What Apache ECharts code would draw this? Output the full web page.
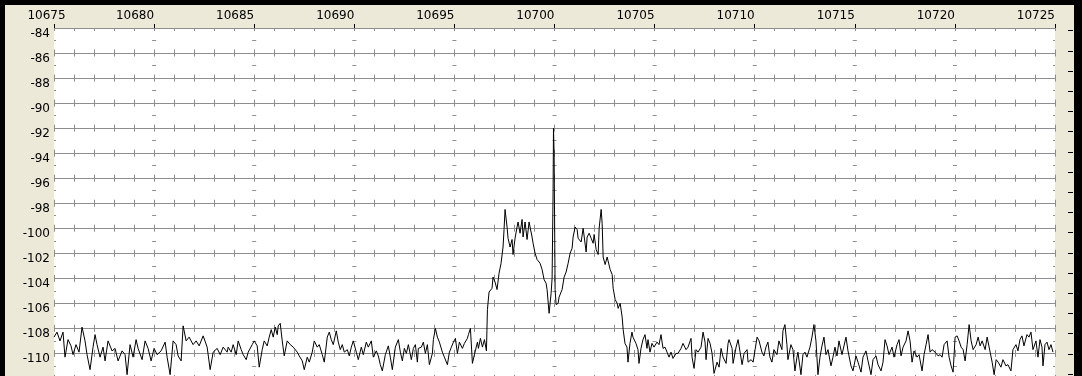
<!DOCTYPE html>
<html><head><meta charset="utf-8">
<script src="https://cdn.jsdelivr.net/npm/echarts@6/dist/echarts.min.js"></script>
<style>
html,body{margin:0;padding:0;background:#ECE9D8;overflow:hidden;width:1082px;height:376px}
#chart{position:absolute;left:0;top:0;width:1082px;height:376px;background:#ECE9D8}
.bd{position:absolute;background:#000}
</style></head><body>
<div id="chart"></div>
<div class="bd" style="left:0;top:0;width:1082px;height:5px"></div>
<div class="bd" style="left:0;top:0;width:5px;height:376px"></div>
<div class="bd" style="left:1074px;top:0;width:8px;height:376px"></div>
<script>
// ---- tick labels ----
const xTicks = [10675,10680,10685,10690,10695,10700,10705,10710,10715,10720,10725];
const yTicks = [-84,-86,-88,-90,-92,-94,-96,-98,-100,-102,-104,-106,-108,-110];

// ---- spectrum trace (MHz, dBm) ----
const freq = [
10675.00,10675.15,10675.30,10675.45,10675.55,10675.70,10675.85,10675.95,10676.10,10676.25,
10676.40,10676.55,10676.65,10676.80,10676.95,10677.05,10677.15,10677.30,10677.45,10677.55,
10677.70,10677.90,10678.05,10678.20,10678.40,10678.55,10678.65,10678.80,10678.95,10679.10,
10679.20,10679.40,10679.55,10679.70,10679.85,10680.00,10680.15,10680.35,10680.55,10680.65,
10680.80,10680.95,10681.10,10681.20,10681.35,10681.45,10681.60,10681.75,10681.95,10682.10,
10682.25,10682.45,10682.65,10682.80,10682.95,10683.15,10683.30,10683.45,10683.65,
10683.70,10683.85,10683.95,10684.10,10684.20,10684.35,10684.45,10684.60,10684.70,10684.90,
10685.00,10685.15,10685.25,10685.40,10685.50,10685.65,10685.75,10685.85,10685.95,10686.05,
10686.15,10686.20,10686.30,10686.40,10686.50,10686.65,10686.80,10686.95,10687.15,10687.25,
10687.40,10687.50,10687.65,10687.75,10687.90,10688.00,10688.15,10688.25,10688.40,10688.50,
10688.65,10688.75,10688.85,10688.95,10689.10,10689.20,10689.30,10689.40,10689.50,10689.65,
10689.75,10689.85,10689.95,10690.10,10690.20,10690.35,10690.45,10690.60,10690.70,10690.85,
10690.95,10691.10,10691.20,10691.30,10691.40,10691.55,10691.70,10691.80,10691.90,10692.05,
10692.20,10692.30,10692.40,
10692.50,10692.60,10692.70,10692.85,10692.95,10693.05,10693.15,10693.20,10693.35,10693.45,
10693.55,10693.65,10693.75,10693.90,10693.95,10694.05,10694.15,10694.25,10694.40,10694.50,
10694.65,10694.75,10694.85,10694.95,10695.05,10695.15,10695.25,10695.40,10695.50,10695.65,
10695.70,10695.80,10695.90,10696.00,10696.15,10696.20,10696.30,10696.40,10696.50,10696.60,
10696.65,10696.73,10696.88,10696.93,10697.03,10697.13,10697.23,10697.33,10697.43,10697.48,
10697.53,10697.63,10697.68,10697.78,10697.88,10697.93,10698.03,10698.13,10698.18,10698.28,
10698.38,10698.43,10698.53,10698.63,10698.73,10698.88,10698.93,10699.03,10699.13,10699.28,
10699.38,10699.48,10699.58,10699.63,10699.73,10699.83,10699.88,10699.93,10699.95,10699.98,
10700.03,10700.08,10700.18,10700.23,10700.38,10700.48,10700.58,10700.68,10700.78,10700.88,
10700.93,10701.03,10701.13,10701.18,10701.33,10701.43,10701.48,10701.58,10701.63,10701.73,
10701.83,10701.93,10701.98,10702.08,10702.18,10702.23,10702.33,10702.38,10702.43,10702.53,
10702.63,10702.68,10702.78,10702.88,10702.93,10703.03,10703.13,10703.18,10703.28,10703.38,
10703.43,
10703.52,10703.62,10703.67,10703.77,10703.87,10703.92,10704.07,10704.17,10704.22,10704.32,
10704.42,10704.52,10704.62,10704.67,10704.77,10704.87,10704.97,10705.12,10705.22,10705.32,
10705.42,10705.52,10705.62,10705.72,10705.82,10705.92,10706.07,10706.17,10706.32,10706.42,
10706.57,10706.67,10706.82,10706.87,10706.97,10707.07,10707.17,10707.32,10707.42,10707.52,
10707.57,10707.67,10707.77,10707.87,10707.97,10708.12,10708.22,10708.32,10708.42,10708.57,
10708.67,10708.72,10708.87,10708.92,10709.07,10709.17,10709.27,10709.37,10709.47,10709.62,
10709.67,10709.82,
10709.92,10710.02,10710.12,10710.22,10710.36,10710.46,10710.56,10710.66,10710.76,10710.86,
10710.96,10711.11,10711.21,10711.36,10711.41,10711.51,10711.61,10711.66,10711.81,10711.91,
10712.01,10712.11,10712.16,10712.31,10712.41,10712.51,10712.61,10712.76,10712.86,10712.96,
10713.06,10713.16,10713.26,10713.36,10713.46,10713.56,10713.66,10713.81,10713.91,10714.01,
10714.11,10714.21,10714.36,10714.46,10714.56,10714.66,10714.81,10714.91,10715.06,10715.16,
10715.31,10715.41,10715.56,10715.66,10715.81,10715.91,10716.06,10716.16,10716.31,10716.41,
10716.51,10716.61,10716.71,10716.86,10716.96,10717.11,10717.21,10717.31,10717.41,10717.56,
10717.66,10717.76,10717.86,10717.96,10718.11,10718.21,10718.36,10718.46,10718.56,10718.66,
10718.76,10718.86,10719.01,10719.16,10719.26,10719.36,10719.46,10719.61,10719.71,10719.81,
10719.91,10720.01,10720.11,10720.21,10720.31,10720.41,10720.51,10720.61,10720.71,10720.81,
10720.91,10721.06,10721.16,10721.26,10721.36,10721.51,10721.61,10721.76,10721.86,10721.96,
10722.06,10722.16,10722.30,10722.40,10722.55,10722.65,10722.80,10722.90,10723.05,10723.15,
10723.25,10723.35,10723.45,10723.60,10723.70,10723.80,10723.90,10724.05,10724.15,10724.25,
10724.35,10724.40,10724.50,10724.60,10724.70,10724.80,10724.90
];
const level = [
-108.7,-108.3,-109.0,-108.3,-110.3,-108.9,-109.4,-110.1,-109.3,-109.9,
-107.9,-109.0,-110.1,-111.3,-109.5,-108.5,-109.3,-110.3,-109.5,-110.6,
-109.0,-109.8,-109.6,-110.6,-109.8,-110.1,-111.7,-109.3,-110.3,-108.9,
-109.6,-110.5,-109.0,-109.6,-110.6,-109.6,-110.1,-109.8,-109.1,-110.3,
-111.7,-109.0,-109.3,-110.2,-110.6,-107.8,-109.0,-108.7,-109.3,-109.0,
-109.4,-108.6,-109.5,-111.3,-109.9,-109.6,-110.1,-109.5,-109.9,
-109.5,-109.9,-109.3,-110.1,-109.0,-109.7,-110.1,-110.5,-109.9,-109.3,
-109.0,-109.4,-111.1,-109.7,-109.0,-109.4,-108.7,-108.1,-108.7,-107.9,
-108.5,-107.8,-107.6,-109.0,-110.2,-109.0,-109.3,-109.5,-109.9,-110.2,
-110.6,-111.3,-110.3,-110.7,-109.9,-109.0,-109.5,-109.3,-110.1,-110.7,
-108.7,-108.3,-108.9,-109.3,-108.2,-109.1,-109.7,-109.3,-109.9,-109.7,
-110.2,-109.5,-109.0,-109.9,-110.5,-109.5,-110.1,-109.1,-109.5,-109.0,
-110.3,-109.8,-110.2,-110.9,-111.4,-110.1,-109.4,-110.3,-111.3,-109.5,
-108.9,-109.9,-110.6,
-109.6,-110.0,-109.3,-110.5,-109.6,-109.3,-110.7,-109.6,-109.5,-109.1,
-110.0,-109.3,-110.9,-110.0,-108.9,-108.0,-108.7,-109.1,-109.9,-110.3,
-110.9,-109.9,-109.5,-109.1,-108.8,-110.0,-109.1,-109.6,-109.2,-108.8,
-108.5,-108.0,-110.8,-110.1,-109.1,-109.6,-108.8,-109.5,-108.9,-109.8,
-106.5,-105.1,-104.8,-103.9,-104.3,-104.9,-103.6,-102.8,-101.5,-100.1,
-98.5,-99.9,-100.8,-101.5,-100.9,-102.1,-100.8,-99.9,-99.5,-100.4,
-99.3,-100.7,-99.5,-100.9,-99.5,-100.7,-101.2,-102.0,-102.5,-102.8,
-103.3,-104.1,-104.4,-104.9,-106.8,-105.2,-104.0,-97.0,-92.0,-94.0,
-104.9,-106.1,-106.0,-105.5,-104.9,-103.9,-103.5,-102.8,-102.0,-101.6,
-100.7,-99.9,-100.1,-100.8,-101.1,-100.0,-99.9,-101.9,-100.7,-100.4,
-100.8,-101.2,-100.5,-101.7,-102.1,-100.0,-98.5,-99.6,-102.3,-102.9,
-102.3,-102.4,-103.3,-103.7,-104.8,-105.7,-106.0,-106.4,-106.0,-107.1,
-108.1,
-109.2,-109.5,-110.7,-109.2,-108.3,-108.7,-109.2,-109.7,-110.8,-109.6,
-108.9,-108.5,-109.6,-108.9,-109.9,-109.2,-109.5,-109.1,-109.3,-108.5,
-109.6,-109.5,-109.9,-110.3,-109.9,-110.4,-110.0,-110.0,-109.6,-109.2,
-109.7,-109.5,-108.8,-110.3,-111.2,-109.7,-109.9,-109.5,-108.3,-109.1,
-110.5,-108.8,-109.2,-110.0,-111.6,-110.7,-111.1,-109.6,-110.3,-110.8,
-109.2,-108.9,-109.6,-110.8,-109.5,-108.9,-109.9,-110.9,-110.0,-109.7,
-110.7,-110.5,
-110.7,-109.7,-108.7,-109.0,-109.9,-110.2,-109.5,-109.1,-110.3,-110.7,
-109.7,-110.1,-109.0,-109.7,-108.2,-107.7,-109.3,-110.5,-109.3,-109.7,
-111.4,-110.3,-109.9,-111.7,-110.1,-109.9,-110.3,-109.5,-108.7,-107.7,
-109.0,-111.7,-110.3,-109.4,-108.7,-110.1,-109.7,-111.0,-110.3,-109.5,
-110.2,-109.0,-110.1,-109.4,-108.7,-109.8,-111.0,-111.4,-110.2,-110.7,
-111.5,-110.3,-109.8,-110.6,-111.7,-110.5,-110.2,-110.9,-111.4,-110.7,
-108.9,-109.4,-110.1,-109.5,-110.3,-109.3,-108.9,-110.2,-109.5,-109.0,
-108.2,-109.0,-110.7,-109.8,-110.3,-110.1,-111.4,-110.1,-109.3,-108.5,
-109.9,-109.7,-109.9,-110.2,-110.1,-110.3,-109.3,-109.0,-110.3,-111.0,
-111.5,-108.7,-108.6,-109.0,-109.5,-109.7,-110.6,-109.3,-107.7,-109.0,
-109.7,-109.3,-108.7,-109.4,-109.0,-109.7,-108.7,-109.9,-110.7,-111.7,
-110.5,-110.7,-111.1,-110.5,-111.0,-110.9,-111.4,-109.7,-109.3,-109.8,
-108.9,-108.6,-109.4,-108.5,-108.7,-108.3,-109.7,-109.0,-110.3,-108.9,
-109.5,-111.0,-109.3,-109.1,-109.7,-109.3,-109.9
];

// ---- layout / style ----
const FONT = 'DejaVu Sans';
const GRIDC = '#8e8e8e';
const X0 = xTicks[0], X1 = xTicks[xTicks.length - 1];
const YMAX = yTicks[0], YMIN = -114;
const G = {left: 54, top: 28, width: 1001};
const PX_PER_DB = 12.515;
const GH = (YMAX - YMIN) * PX_PER_DB;
const ROW = 2 * PX_PER_DB;
const MAJ = G.width / (xTicks.length - 1);
// right-hand unlabelled strip of short marks (drawn as split lines of a narrow grid)
const STRIP = {left: 1068, width: 5, top: 30.7, step: 20.2, steps: 18};

const xAxes = [];
const yAxes = [];
xAxes.push({
  gridIndex: 0, type: 'value', position: 'top', min: X0, max: X1, interval: 5,
  axisLine: {show: false, onZero: false},
  axisTick: {show: true, length: 4, lineStyle: {color: '#000', width: 1}},
  splitLine: {show: false},
  axisLabel: {
    show: true, fontFamily: FONT, fontSize: 12, color: '#000', align: 'right', margin: 6, lineHeight: 12,
    alignMinLabel: 'center', showMinLabel: true, showMaxLabel: true,
    formatter: v => v === X0 ? '{m|' + v + '}' : String(v),
    rich: {m: {padding: [0, 15, 0, 0], fontFamily: FONT, fontSize: 12, color: '#000', lineHeight: 12}}
  }
});
xAxes.push({
  gridIndex: 0, type: 'value', position: 'top', min: X0, max: X1, interval: 1, offset: 0,
  axisLine: {show: false, onZero: false}, axisLabel: {show: false}, splitLine: {show: false},
  axisTick: {show: true, inside: true, length: 3, lineStyle: {color: GRIDC}}
});
for (let k = 1; k <= 14; k++) {
  xAxes.push({
    gridIndex: 0, type: 'value', position: 'top', min: X0, max: X1, interval: 1, offset: -(ROW * k + 3.5),
    axisLine: {show: false, onZero: false}, axisLabel: {show: false}, splitLine: {show: false},
    axisTick: {show: true, length: 7, lineStyle: {color: GRIDC}}
  });
}
xAxes.push({gridIndex: 1, type: 'value', min: X0, max: X1, show: false, axisLine: {onZero: false}});
xAxes.push({
  gridIndex: 2, type: 'value', min: 0, max: 1, position: 'bottom',
  axisLine: {show: false, onZero: false}, axisTick: {show: false}, axisLabel: {show: false}, splitLine: {show: false}
});

yAxes.push({
  gridIndex: 0, type: 'value', position: 'left', min: YMIN, max: YMAX, interval: 2,
  axisLine: {show: false, onZero: false}, axisTick: {show: false},
  splitLine: {show: true, lineStyle: {color: GRIDC, width: 1}},
  axisLabel: {show: true, fontFamily: FONT, fontSize: 12, color: '#000', align: 'right', margin: 4,
    verticalAlign: 'top', lineHeight: 11, formatter: v => String(v)}
});
for (let m = 0; m < xTicks.length; m++) {
  const last = m === xTicks.length - 1;
  yAxes.push({
    gridIndex: 1, type: 'value', position: 'left', min: YMIN, max: YMAX, interval: 2,
    offset: last ? -(MAJ * m) : -(MAJ * m + 2),
    axisLine: {show: false, onZero: false}, axisLabel: {show: false}, splitLine: {show: false},
    axisTick: {show: true, length: (m === 0 || last) ? 2 : 4, lineStyle: {color: GRIDC}}
  });
}
yAxes.push({
  gridIndex: 2, type: 'value', position: 'left', min: 0, max: STRIP.steps, interval: 1,
  axisLine: {show: false, onZero: false}, axisTick: {show: false}, axisLabel: {show: false},
  splitLine: {show: true, lineStyle: {color: '#000', width: 1}}
});

const gridBase = {outerBoundsMode: 'none', containLabel: false};
const chart = echarts.init(document.getElementById('chart'), null, {renderer: 'canvas', width: 1082, height: 376});
chart.setOption({
  animation: false,
  backgroundColor: '#ECE9D8',
  grid: [
    Object.assign({left: G.left, top: G.top, width: G.width, height: GH, show: true, backgroundColor: '#fff', borderWidth: 0}, gridBase),
    Object.assign({left: G.left, top: G.top + ROW / 2, width: G.width, height: GH, show: false}, gridBase),
    Object.assign({left: STRIP.left, top: STRIP.top, width: STRIP.width, height: STRIP.step * STRIP.steps, show: false}, gridBase)
  ],
  xAxis: xAxes,
  yAxis: yAxes,
  series: [{
    type: 'line', xAxisIndex: 0, yAxisIndex: 0,
    data: freq.map((f, i) => [f, level[i]]),
    showSymbol: false, symbol: 'none', clip: true,
    lineStyle: {color: '#000', width: 1}, z: 5, silent: true
  }]
});
</script>
</body></html>
